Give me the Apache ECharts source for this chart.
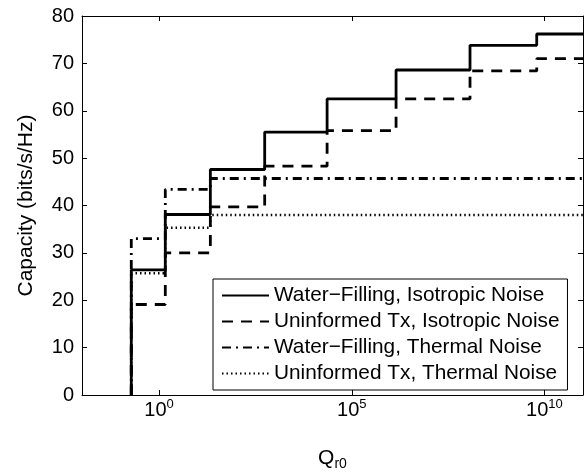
<!DOCTYPE html>
<html>
<head>
<meta charset="utf-8">
<script src="https://cdn.jsdelivr.net/npm/echarts@6/dist/echarts.min.js"></script>
<style>
  html, body { margin: 0; padding: 0; background: #fff; }
  #chart { width: 588px; height: 475px; }
</style>
</head>
<body>
<div id="chart"></div>
<script>
// Q_r0 where each curve steps up
var stepQ = [0.19, 1.45, 21.4, 550, 22900, 1.41e6, 1.17e8, 6.3e9];
var qMax = 1e11;

// capacity level after each step (bits/s/Hz)
var wfIsotropic = [26.4, 38.1, 47.6, 55.5, 62.5, 68.6, 73.8, 76.2];
var uiIsotropic = [19.1, 30.0, 39.7, 48.3, 55.8, 62.5, 68.4, 71.0];
var wfThermal = [33.0, 43.4, 45.7];
var uiThermal = [25.7, 35.3, 38.0];

var names = [
  'Water\u2212Filling, Isotropic Noise',
  'Uninformed Tx, Isotropic Noise',
  'Water\u2212Filling, Thermal Noise',
  'Uninformed Tx, Thermal Noise'
];

var xTicks = [1, 1e5, 1e10];

// step data: start at 0, then one point per level, held to the right edge
function steps(levels) {
  var pts = [[stepQ[0], 0]];
  for (var i = 0; i < levels.length; i++) {
    pts.push([stepQ[i], levels[i]]);
  }
  pts.push([qMax, levels[levels.length - 1]]);
  return pts;
}

var chart = echarts.init(document.getElementById('chart'));

function lineSeries(name, levels, type, width) {
  return {
    name: name,
    type: 'line',
    step: 'end',
    symbol: 'none',
    data: steps(levels),
    lineStyle: { color: '#000', width: width, type: type },
    itemStyle: { color: '#000' }
  };
}

var font = 'Liberation Sans, Arial, sans-serif';

var option = {
  animation: false,
  backgroundColor: '#fff',
  textStyle: { fontFamily: font, color: '#000' },
  grid: { left: 82, right: 5, top: 16, bottom: 80, outerBoundsMode: 'none' },
  legend: {
    orient: 'vertical',
    left: 213,
    top: 279,
    padding: [6, 8, 6, 8],
    itemGap: 5,
    itemWidth: 47,
    itemHeight: 14,
    backgroundColor: '#fff',
    borderColor: '#000',
    borderWidth: 1,
    borderRadius: 0,
    itemStyle: { opacity: 0 },
    textStyle: { fontSize: 20.8, fontFamily: font, color: '#000' },
    data: names
  },
  xAxis: [{
    type: 'log',
    logBase: 10,
    min: 0.01,
    max: qMax,
    name: '{q|Q}{sub|r0}',
    nameLocation: 'middle',
    nameGap: 50,
    nameTextStyle: {
      rich: {
        q: { fontSize: 21, fontFamily: font },
        sub: { fontSize: 14, fontFamily: font, padding: [12, 0, 0, 0] }
      }
    },
    axisLine: { onZero: false, lineStyle: { color: '#000', width: 1 } },
    axisTick: { inside: true, length: 5, customValues: xTicks, lineStyle: { color: '#000' } },
    axisLabel: {
      customValues: xTicks,
      margin: 3,
      formatter: function (v) {
        return '{b|10}{s|' + Math.round(Math.log10(v)) + '}';
      },
      rich: {
        b: { fontSize: 20, fontFamily: font, color: '#000' },
        s: { fontSize: 13, fontFamily: font, color: '#000', padding: [0, 0, 12, 0] }
      }
    },
    splitLine: { show: false },
    minorTick: { show: false }
  }, {
    type: 'log',
    logBase: 10,
    min: 0.01,
    max: qMax,
    position: 'top',
    axisLine: { onZero: false, lineStyle: { color: '#000', width: 1 } },
    axisTick: { inside: true, length: 5, customValues: xTicks, lineStyle: { color: '#000' } },
    axisLabel: { show: false },
    splitLine: { show: false }
  }],
  yAxis: [{
    type: 'value',
    min: 0,
    max: 80,
    interval: 10,
    name: 'Capacity (bits/s/Hz)',
    nameLocation: 'middle',
    nameGap: 45,
    nameTextStyle: { fontSize: 21, fontFamily: font, color: '#000' },
    axisLine: { show: true, lineStyle: { color: '#000', width: 1 } },
    axisTick: { show: true, inside: true, length: 5, lineStyle: { color: '#000' } },
    axisLabel: { fontSize: 20, margin: 8, color: '#000' },
    splitLine: { show: false }
  }, {
    type: 'value',
    min: 0,
    max: 80,
    interval: 10,
    position: 'right',
    axisLine: { show: true, lineStyle: { color: '#000', width: 1 } },
    axisTick: { show: true, inside: true, length: 5, lineStyle: { color: '#000' } },
    axisLabel: { show: false },
    splitLine: { show: false }
  }],
  series: [
    lineSeries(names[0], wfIsotropic, 'solid', 2.8),
    lineSeries(names[1], uiIsotropic, [11, 8], 2.8),
    lineSeries(names[2], wfThermal, [9, 5, 2, 5], 2.8),
    lineSeries(names[3], uiThermal, [1.5, 3], 2.4)
  ]
};

chart.setOption(option);
</script>
</body>
</html>
